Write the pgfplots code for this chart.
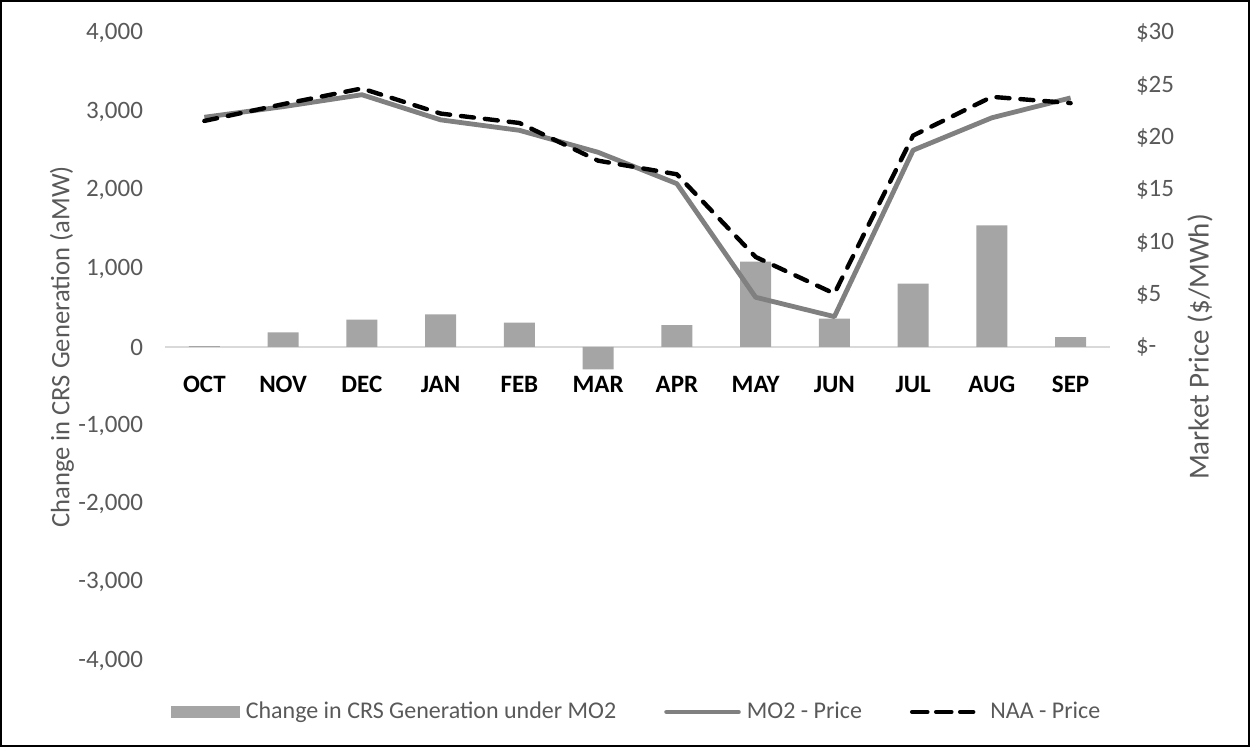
\documentclass[border=0pt]{standalone}
\usepackage{pgfplots}
\pgfplotsset{compat=1.18}
\usepackage{fontspec}
\setmainfont{Carlito}
\definecolor{txt}{HTML}{595959}
\definecolor{barc}{HTML}{A5A5A5}
\definecolor{mo2}{HTML}{808080}
\definecolor{zl}{HTML}{D9D9D9}
\begin{document}
\begin{tikzpicture}
\draw[black, line width=1pt] (0.5pt,0.5pt) rectangle (624.5pt,373pt);
\begin{axis}[
  at={(82.5pt,43pt)}, anchor=south west,
  scale only axis, width=472.5pt, height=314pt,
  xmin=-0.5, xmax=11.5, ymin=-4000, ymax=4000,
  axis x line=middle, axis y line=left,
  axis line style={-},
  x axis line style={-, draw=zl, line width=0.8pt},
  y axis line style={draw=none},
  major tick length=0pt,
  xtick={0,...,11},
  xticklabels={OCT,NOV,DEC,JAN,FEB,MAR,APR,MAY,JUN,JUL,AUG,SEP},
  xticklabel style={anchor=north, yshift=-11pt, font=\fontsize{12.5}{15}\selectfont\bfseries, text=black},
  ytick={-4000,-3000,...,4000},
  yticklabels={{-4,000},{-3,000},{-2,000},{-1,000},{0},{1,000},{2,000},{3,000},{4,000}},
  yticklabel style={font=\fontsize{12.5}{15}\selectfont, text=txt, xshift=-7.5pt},
  ylabel={Change in CRS Generation (aMW)},
  ylabel style={at={(axis description cs:-0.109,0.5)}, anchor=center, rotate=0, font=\fontsize{13.3}{16}\selectfont, text=txt},
  clip=false,
]
\addplot[ybar, bar width=15.5pt, fill=barc, draw=none] coordinates {
 (0,10) (1,187) (2,348) (3,416) (4,310) (5,-284) (6,280) (7,1087) (8,361) (9,807) (10,1550) (11,127)};
\end{axis}
\begin{axis}[
  at={(82.5pt,43pt)}, anchor=south west,
  scale only axis, width=472.5pt, height=314pt,
  xmin=-0.5, xmax=11.5, ymin=-30, ymax=30,
  axis x line=none, axis y line=right,
  axis line style={-},
  y axis line style={draw=none},
  major tick length=0pt,
  ytick={0,5,...,30},
  yticklabels={{\$-},{\$5},{\$10},{\$15},{\$20},{\$25},{\$30}},
  yticklabel style={font=\fontsize{12.5}{15}\selectfont, text=txt, xshift=9.5pt, anchor=west},
  ylabel={Market Price (\$/MWh)},
  ylabel style={at={(axis description cs:1.0952,0.5)}, anchor=center, rotate=0, font=\fontsize{14.5}{17}\selectfont, text=txt},
  legend columns=3,
  legend style={at={(0.5,-0.0812)}, anchor=center, draw=none, fill=none,
    font=\fontsize{12}{14}\selectfont, text=txt,
    /tikz/every odd column/.append style={column sep=1pt},
    /tikz/every even column/.append style={column sep=22pt},
    inner sep=0pt},
  legend cell align=left,
  clip=false,
]
\addlegendimage{fill=barc, draw=none, legend image code/.code={\fill[barc] (0pt,-3pt) rectangle (34.5pt,3pt);}}
\addlegendentry{Change in CRS Generation under MO2}
\addplot[mo2, line width=2.4pt, line join=round, legend image code/.code={\draw[mo2, line width=2.4pt, line cap=round] (0.6pt,0pt) -- (36.5pt,0pt);}] coordinates {
 (0,21.95) (1,22.96) (2,24.1) (3,21.7) (4,20.7) (5,18.6) (6,15.6) (7,4.75) (8,2.9) (9,18.8) (10,21.9) (11,23.8)};
\addlegendentry{MO2 - Price}
\addplot[black, line width=2.2pt, line cap=round, line join=round, dash pattern=on 6.5pt off 5.5pt, legend image code/.code={\draw[black, line width=2.2pt, line cap=round, dash pattern=on 6.5pt off 5.5pt] (1.1pt,0pt) -- (30pt,0pt); \path (0pt,0pt) -- (35pt,0pt);}] coordinates {
 (0,21.6) (1,23.2) (2,24.7) (3,22.3) (4,21.4) (5,17.8) (6,16.5) (7,8.6) (8,5.1) (9,20.2) (10,23.9) (11,23.3)};
\addlegendentry{NAA - Price}
\end{axis}
\end{tikzpicture}
\end{document}
